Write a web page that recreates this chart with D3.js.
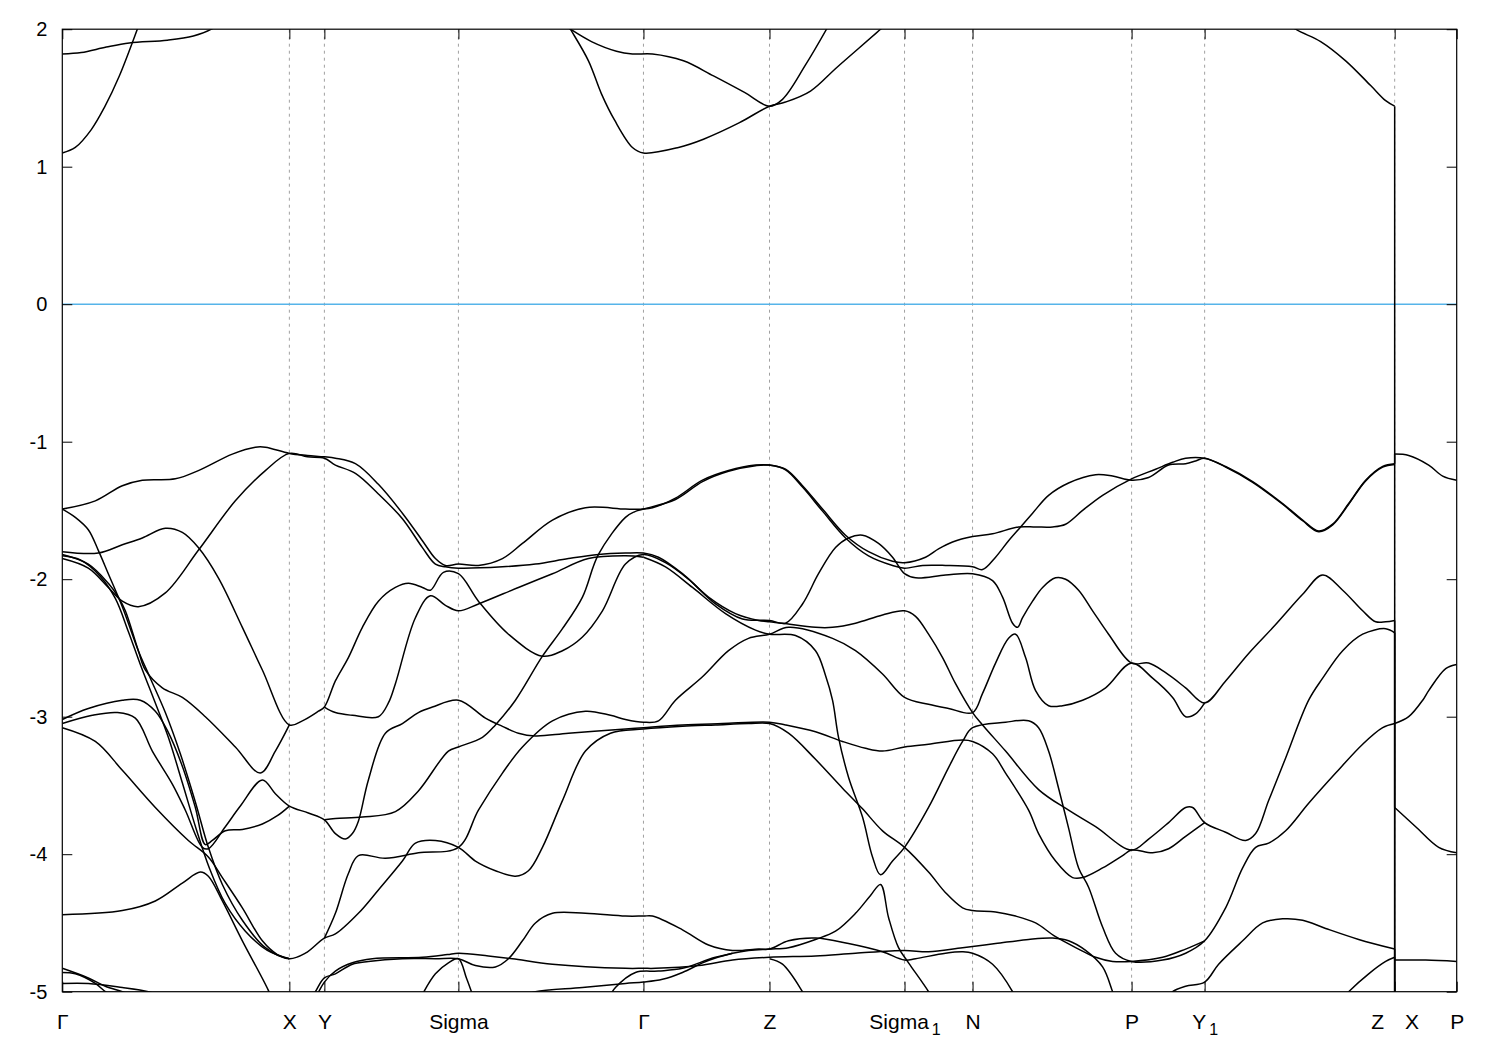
<!DOCTYPE html>
<html>
<head>
<meta charset="utf-8">
<script src="https://cdn.jsdelivr.net/npm/d3@7"></script>
<style>
  body { margin: 0; background: #fff; }
  svg text { font-family: "Liberation Sans", Arial, sans-serif; }
</style>
</head>
<body>
<svg id="chart" width="1500" height="1050"></svg>
<script>
// high-symmetry points along the k-path
const kTicks = [0, 2.27, 2.62, 3.96, 5.81, 7.07, 8.42, 9.10, 10.69, 11.42, 13.32, 13.94]
const kLabels = ["Γ", "X", "Y", "Sigma", "Γ", "Z", "Sigma_1", "N", "P", "Y_1", "Z X", "P"]
const eTicks = [2, 1, 0, -1, -2, -3, -4, -5]

// conduction bands (eV)
const cb1 = [[0,1.10],[0.13,1.14],[0.29,1.27],[0.42,1.43],[0.57,1.66],[0.75,2.0],[0.80,2.1]]
const cb2 = [[0,1.82],[0.19,1.83],[0.44,1.87],[0.67,1.90],[1.05,1.92],[1.31,1.95],[1.49,2.0],[1.60,2.06]]
const cb3 = [[4.98,2.12],[5.08,2.0],[5.26,1.77],[5.39,1.53],[5.52,1.34],[5.70,1.14],[5.81,1.10],[6.16,1.14],[6.41,1.20],[6.77,1.32],[7.07,1.44],[7.23,1.47],[7.48,1.55],[7.74,1.72],[8.18,2.0],[8.30,2.08]]
const cb4 = [[5.0,2.04],[5.08,2.0],[5.29,1.91],[5.54,1.84],[5.70,1.82],[5.90,1.82],[6.21,1.77],[6.51,1.66],[6.82,1.54],[7.07,1.44],[7.20,1.49],[7.43,1.74],[7.64,2.0],[7.70,2.08]]
const cb5 = [[12.10,2.12],[12.33,2.0],[12.58,1.91],[12.83,1.77],[13.08,1.59],[13.23,1.48],[13.32,1.44]]

// valence bands (eV)
const vA = [[0,-1.49],[0.33,-1.43],[0.60,-1.32],[0.80,-1.28],[1.13,-1.27],[1.36,-1.21],[1.70,-1.09],[1.93,-1.04],[2.03,-1.04],[2.27,-1.085],[2.45,-1.10],[2.62,-1.11],[2.73,-1.12],[2.93,-1.16],[3.16,-1.31],[3.40,-1.52],[3.60,-1.72],[3.73,-1.85],[3.83,-1.90],[3.96,-1.89],[4.16,-1.90],[4.40,-1.85],[4.60,-1.74],[4.90,-1.57],[5.23,-1.48],[5.63,-1.49],[5.81,-1.49],[5.90,-1.48],[6.13,-1.41],[6.40,-1.28],[6.66,-1.21],[6.93,-1.17],[7.07,-1.17],[7.23,-1.20],[7.40,-1.32],[7.60,-1.49],[7.83,-1.68],[8.06,-1.80],[8.30,-1.87],[8.42,-1.88],[8.63,-1.84],[8.76,-1.78],[8.90,-1.73],[9.10,-1.69],[9.30,-1.67],[9.56,-1.62],[9.73,-1.62],[9.90,-1.62],[10.03,-1.60],[10.20,-1.50],[10.40,-1.39],[10.69,-1.27],[10.93,-1.20],[11.10,-1.15],[11.23,-1.12],[11.42,-1.12],[11.63,-1.18],[11.90,-1.29],[12.20,-1.45],[12.40,-1.57],[12.56,-1.65],[12.70,-1.60],[12.86,-1.45],[13.03,-1.28],[13.20,-1.18],[13.32,-1.16]]
const vK = [[2.62,-3.75],[2.73,-3.74],[3.00,-3.73],[3.33,-3.69],[3.56,-3.54],[3.86,-3.25],[3.96,-3.22],[4.20,-3.15],[4.33,-3.06],[4.53,-2.88],[4.80,-2.56],[5.00,-2.36],[5.20,-2.13],[5.36,-1.82],[5.63,-1.55],[5.72,-1.51],[5.81,-1.49],[6.13,-1.42],[6.40,-1.29],[6.66,-1.215],[6.93,-1.175],[7.07,-1.17],[7.23,-1.205],[7.40,-1.33],[7.60,-1.505],[7.83,-1.70],[8.06,-1.83],[8.30,-1.90],[8.42,-1.92],[8.60,-1.90],[8.83,-1.90],[9.10,-1.91],[9.20,-1.93],[9.33,-1.84],[9.46,-1.72],[9.58,-1.62],[9.70,-1.52],[9.86,-1.39],[10.06,-1.30],[10.33,-1.24],[10.50,-1.25],[10.69,-1.28],[10.86,-1.26],[11.06,-1.17],[11.23,-1.16],[11.33,-1.14],[11.42,-1.12],[11.63,-1.185],[11.90,-1.295],[12.20,-1.455],[12.40,-1.575],[12.56,-1.655],[12.70,-1.605],[12.86,-1.455],[13.03,-1.285],[13.20,-1.185],[13.32,-1.165]]
const vC = [[0,-1.80],[0.36,-1.81],[0.60,-1.75],[0.80,-1.70],[1.03,-1.63],[1.20,-1.66],[1.36,-1.77],[1.56,-1.99],[1.80,-2.35],[2.00,-2.66],[2.27,-3.06],[2.40,-3.03],[2.56,-2.96],[2.62,-2.93],[2.73,-2.74],[2.86,-2.57],[3.00,-2.35],[3.16,-2.16],[3.33,-2.06],[3.46,-2.03],[3.60,-2.06],[3.68,-2.08],[3.81,-1.95],[3.96,-1.96],[4.16,-2.16],[4.46,-2.40],[4.80,-2.56],[5.00,-2.52],[5.20,-2.42],[5.40,-2.23],[5.63,-1.89],[5.81,-1.82],[6.03,-1.88],[6.26,-2.00],[6.53,-2.18],[6.80,-2.29],[7.07,-2.30],[7.23,-2.32],[7.40,-2.18],[7.56,-1.96],[7.73,-1.77],[7.86,-1.70],[8.00,-1.68],[8.16,-1.74],[8.30,-1.84],[8.42,-1.96],[8.53,-1.99],[8.83,-1.97],[9.10,-1.96],[9.30,-2.01],[9.40,-2.13],[9.50,-2.32],[9.55,-2.35],[9.60,-2.28],[9.70,-2.16],[9.80,-2.06],[9.93,-1.99],[10.03,-2.00],[10.16,-2.08],[10.30,-2.23],[10.46,-2.40],[10.69,-2.61],[10.86,-2.61],[11.03,-2.68],[11.23,-2.79],[11.42,-2.90],[11.63,-2.74],[11.86,-2.54],[12.13,-2.33],[12.40,-2.11],[12.60,-1.97],[12.80,-2.08],[13.00,-2.23],[13.13,-2.31],[13.23,-2.31],[13.32,-2.30]]
const vD = [[0,-1.85],[0.26,-1.92],[0.46,-2.06],[0.60,-2.16],[0.76,-2.20],[1.03,-2.10],[1.36,-1.79],[1.73,-1.43],[2.03,-1.21],[2.27,-1.085],[2.45,-1.11],[2.62,-1.12],[2.73,-1.17],[2.93,-1.23],[3.16,-1.38],[3.40,-1.56],[3.60,-1.77],[3.73,-1.89],[3.83,-1.91],[3.96,-1.92],[4.40,-1.91],[4.73,-1.89],[5.06,-1.85],[5.36,-1.82],[5.63,-1.81],[5.81,-1.81],[5.96,-1.84],[6.20,-1.96],[6.46,-2.13],[6.73,-2.25],[6.96,-2.30],[7.07,-2.31],[7.20,-2.32],[7.53,-2.35],[7.70,-2.35],[7.93,-2.32],[8.20,-2.26],[8.42,-2.23],[8.53,-2.27],[8.66,-2.40],[8.80,-2.57],[8.93,-2.76],[9.10,-2.97],[9.20,-3.06],[9.43,-3.25],[9.76,-3.53],[10.06,-3.68],[10.33,-3.80],[10.69,-3.97],[10.86,-3.89],[11.06,-3.77],[11.23,-3.66],[11.30,-3.66],[11.42,-3.77],[11.63,-3.84],[11.83,-3.90],[11.93,-3.85],[12.06,-3.61],[12.23,-3.30],[12.46,-2.88],[12.60,-2.72],[12.80,-2.52],[13.00,-2.40],[13.23,-2.36],[13.32,-2.39]]
const vS = [[0,-1.82],[0.26,-1.89],[0.46,-2.03],[0.56,-2.13],[0.63,-2.23],[0.76,-2.52],[0.83,-2.66],[1.00,-2.79],[1.20,-2.86],[1.43,-3.00],[1.73,-3.22],[1.98,-3.41],[2.13,-3.25],[2.27,-3.06]]
const vE = [[0,-1.83],[0.18,-1.86],[0.38,-1.98],[0.53,-2.14],[0.66,-2.38],[0.78,-2.62],[0.93,-2.90],[1.06,-3.15],[1.20,-3.48],[1.34,-3.82],[1.47,-4.10],[1.63,-4.36],[1.83,-4.56],[2.05,-4.70],[2.27,-4.76]]
const vB = [[0,-1.49],[0.13,-1.55],[0.26,-1.64],[0.36,-1.79],[0.46,-1.96],[0.60,-2.20],[0.76,-2.52],[0.88,-2.72],[1.03,-2.97],[1.18,-3.27],[1.33,-3.62],[1.46,-3.95],[1.60,-4.22],[1.80,-4.48],[2.03,-4.68],[2.27,-4.76],[2.43,-4.72],[2.62,-4.61],[2.73,-4.58],[2.96,-4.43],[3.16,-4.26],[3.40,-4.05],[3.53,-3.92],[3.73,-3.90],[3.96,-3.95],[4.13,-4.05],[4.33,-4.12],[4.53,-4.16],[4.66,-4.12],[4.80,-3.95],[5.00,-3.61],[5.23,-3.25],[5.48,-3.12],[5.81,-3.09],[6.20,-3.07],[6.53,-3.06],[6.86,-3.05],[7.07,-3.05],[7.26,-3.12],[7.53,-3.31],[7.80,-3.52],[8.00,-3.67],[8.20,-3.83],[8.42,-3.95],[8.66,-4.13],[8.83,-4.28],[9.00,-4.39],[9.10,-4.41],[9.33,-4.42],[9.53,-4.45],[9.73,-4.50],[9.93,-4.60],[10.16,-4.69],[10.33,-4.75],[10.50,-4.78],[10.69,-4.78],[11.00,-4.75],[11.23,-4.69],[11.42,-4.63]]
const vH = [[0,-3.02],[0.26,-2.94],[0.60,-2.88],[0.78,-2.88],[0.93,-2.96],[1.05,-3.10],[1.20,-3.36],[1.33,-3.66],[1.43,-3.93],[1.50,-3.90],[1.63,-3.83],[1.80,-3.82],[2.00,-3.78],[2.15,-3.72],[2.27,-3.65]]
const vG = [[0,-3.05],[0.30,-2.99],[0.55,-2.97],[0.73,-3.01],[0.90,-3.25],[1.10,-3.49],[1.23,-3.68],[1.40,-3.95],[1.46,-3.96],[1.63,-3.80],[1.78,-3.65],[2.00,-3.46],[2.13,-3.56],[2.27,-3.65],[2.46,-3.70],[2.62,-3.75],[2.73,-3.85],[2.83,-3.89],[2.90,-3.85],[2.96,-3.76],[3.06,-3.46],[3.23,-3.12],[3.40,-3.05],[3.56,-2.97],[3.70,-2.93],[3.96,-2.88],[4.23,-3.01],[4.40,-3.07],[4.56,-3.12],[4.73,-3.14],[5.06,-3.12],[5.63,-3.09],[5.81,-3.08],[6.20,-3.06],[6.60,-3.05],[7.07,-3.04],[7.23,-3.06],[7.53,-3.11],[7.80,-3.18],[8.03,-3.23],[8.20,-3.25],[8.42,-3.22],[8.66,-3.20],[9.00,-3.17],[9.10,-3.18],[9.30,-3.27],[9.43,-3.41],[9.66,-3.68],[9.76,-3.85],[9.93,-4.05],[10.10,-4.17],[10.20,-4.17],[10.40,-4.10],[10.60,-4.01],[10.69,-3.97],[10.90,-3.99],[11.06,-3.96],[11.23,-3.87],[11.42,-3.77]]
const vL = [[0,-3.08],[0.33,-3.18],[0.60,-3.39],[0.93,-3.66],[1.26,-3.90],[1.46,-4.02],[1.60,-4.17],[1.80,-4.39],[2.00,-4.63],[2.15,-4.73],[2.27,-4.76]]
const vF = [[2.62,-4.61],[2.73,-4.43],[2.86,-4.14],[2.96,-4.01],[3.23,-4.03],[3.56,-3.99],[3.96,-3.95],[4.16,-3.68],[4.40,-3.41],[4.60,-3.22],[4.90,-3.03],[5.23,-2.96],[5.48,-2.99],[5.63,-3.02],[5.81,-3.04],[5.96,-3.03],[6.13,-2.88],[6.40,-2.71],[6.66,-2.52],[6.86,-2.43],[7.07,-2.40],[7.26,-2.35],[7.70,-2.43],[7.93,-2.52],[8.20,-2.69],[8.42,-2.86],[8.66,-2.91],[8.86,-2.94],[9.10,-2.97],[9.20,-2.83],[9.33,-2.61],[9.46,-2.43],[9.53,-2.40],[9.63,-2.57],[9.73,-2.81],[9.86,-2.92],[10.00,-2.92],[10.20,-2.88],[10.43,-2.79],[10.69,-2.61],[10.90,-2.72],[11.10,-2.86],[11.23,-3.00],[11.33,-2.98],[11.42,-2.90]]
const vb = [[2.62,-2.93],[2.73,-2.97],[2.90,-2.99],[3.16,-3.00],[3.26,-2.90],[3.33,-2.76],[3.53,-2.28],[3.68,-2.12],[3.83,-2.19],[3.96,-2.23],[4.16,-2.18],[4.56,-2.06],[4.90,-1.96],[5.26,-1.85],[5.63,-1.83],[5.81,-1.84]]
const vI = [[5.81,-1.84],[6.03,-1.91],[6.30,-2.06],[6.63,-2.25],[6.93,-2.37],[7.07,-2.40],[7.33,-2.41],[7.53,-2.52],[7.63,-2.70],[7.70,-2.88],[7.76,-3.15],[7.86,-3.44],[8.00,-3.73],[8.10,-4.02],[8.18,-4.15],[8.30,-4.05],[8.42,-3.95],[8.66,-3.66],[8.86,-3.37],[9.00,-3.18],[9.10,-3.08],[9.43,-3.04],[9.66,-3.03],[9.76,-3.08],[9.86,-3.25],[9.96,-3.52],[10.06,-3.81],[10.16,-4.10],[10.26,-4.24],[10.40,-4.53],[10.53,-4.72],[10.69,-4.78],[11.00,-4.77],[11.23,-4.72],[11.42,-4.63],[11.63,-4.39],[11.80,-4.10],[11.93,-3.95],[12.06,-3.92],[12.23,-3.83],[12.46,-3.63],[12.73,-3.41],[13.00,-3.20],[13.20,-3.08],[13.32,-3.05]]
const vJ = [[0,-4.44],[0.60,-4.41],[0.93,-4.34],[1.20,-4.21],[1.38,-4.13],[1.46,-4.16],[1.60,-4.34],[1.80,-4.63],[2.06,-4.99],[2.12,-5.1]]

// lowest bands, mostly near the bottom edge
const b1 = [[0,-4.83],[0.26,-4.90],[0.43,-4.96],[0.60,-5.0],[0.70,-5.03]]
const b2 = [[0,-4.86],[0.13,-4.87],[0.33,-4.94],[0.43,-5.0],[0.50,-5.03]]
const b3 = [[0,-4.94],[0.26,-4.94],[0.60,-4.97],[0.86,-5.0],[0.95,-5.02]]
const w1 = [[2.45,-5.1],[2.53,-5.0],[2.62,-4.90],[2.73,-4.87],[2.90,-4.80],[3.06,-4.78],[3.40,-4.76],[3.73,-4.76],[3.96,-4.76],[4.13,-4.81],[4.33,-4.82],[4.46,-4.76],[4.60,-4.63],[4.73,-4.50],[4.90,-4.43],[5.23,-4.43],[5.63,-4.45],[5.81,-4.45],[5.90,-4.45],[6.20,-4.55],[6.46,-4.66],[6.70,-4.70],[6.96,-4.69],[7.07,-4.69],[7.26,-4.63],[7.53,-4.61],[7.86,-4.65],[8.20,-4.71],[8.42,-4.77],[8.53,-4.76],[8.83,-4.72],[9.00,-4.71],[9.10,-4.72],[9.30,-4.80],[9.50,-5.0],[9.56,-5.1]]
const w2 = [[2.53,-5.05],[2.62,-4.93],[2.73,-4.85],[2.90,-4.79],[3.10,-4.76],[3.60,-4.75],[3.85,-4.73],[3.96,-4.72],[4.26,-4.74],[4.50,-4.76],[4.90,-4.80],[5.63,-4.83],[5.81,-4.83],[5.93,-4.83],[6.36,-4.81],[6.70,-4.77],[7.07,-4.75],[7.53,-4.74],[7.93,-4.72],[8.42,-4.70],[8.66,-4.71],[9.00,-4.68],[9.33,-4.65],[9.66,-4.62],[9.90,-4.61],[10.06,-4.63],[10.23,-4.70],[10.40,-4.82],[10.50,-5.0],[10.55,-5.1]]
const w3 = [[5.46,-5.05],[5.53,-4.97],[5.73,-4.86],[5.96,-4.85],[6.20,-4.83],[6.53,-4.75],[6.86,-4.70],[7.07,-4.69],[7.26,-4.68],[7.53,-4.62],[7.73,-4.56],[7.93,-4.43],[8.08,-4.30],[8.18,-4.22],[8.26,-4.46],[8.36,-4.68],[8.46,-4.79],[8.66,-5.0],[8.72,-5.08]]
const w4 = [[4.60,-5.03],[4.73,-5.0],[5.20,-4.97],[5.63,-4.94],[5.81,-4.93],[6.00,-4.91],[6.20,-4.86],[6.40,-4.79],[6.53,-4.755],[6.70,-4.72]]
const w5 = [[7.07,-4.76],[7.20,-4.80],[7.40,-5.0],[7.46,-5.08]]
const w6 = [[11.05,-5.05],[11.10,-5.0],[11.23,-4.96],[11.42,-4.93],[11.56,-4.80],[11.80,-4.63],[12.00,-4.50],[12.20,-4.47],[12.40,-4.48],[12.63,-4.54],[12.96,-4.62],[13.32,-4.69]]
const w7 = [[12.80,-5.05],[12.86,-5.0],[13.06,-4.87],[13.23,-4.78],[13.32,-4.75]]
const sigL = [[3.60,-5.02],[3.73,-4.87],[3.86,-4.79],[3.96,-4.76],[4.04,-4.90],[4.10,-5.02]]

// last segment X-P
const r1 = [[13.32,-1.09],[13.46,-1.10],[13.66,-1.17],[13.80,-1.25],[13.94,-1.28]]
const r2 = [[13.32,-3.05],[13.46,-3.00],[13.60,-2.88],[13.66,-2.81],[13.83,-2.65],[13.94,-2.62]]
const r3 = [[13.32,-3.66],[13.53,-3.80],[13.76,-3.95],[13.94,-3.99]]
const r4 = [[13.32,-4.77],[13.63,-4.77],[13.94,-4.78]]

// vertical jumps at the Z|X break
const jumpFrom = [1.44, -1.16, -2.30, -2.39, -3.05, -4.69, -4.75]
const jumpTo = [-3.05, -1.09, -3.66, -4.77, -5.1, -5.1, -5.1]

const bands = [cb1, cb2, cb3, cb4, cb5, vA, vK, vC, vD, vS, vE, vB, vH, vG, vL, vF, vb, vI, vJ,
  b1, b2, b3, w1, w2, w3, w4, w5, w6, w7, sigL, r1, r2, r3, r4]

const width = 1500
const height = 1050
const margin = { top: 29.2, right: 43.3, bottom: 58.3, left: 62.3 }

const svg = d3.select("#chart")

const x = d3.scaleLinear()
  .domain([0, kTicks[kTicks.length - 1]])
  .range([margin.left, width - margin.right])
const y = d3.scaleLinear()
  .domain([-5, 2])
  .range([height - margin.bottom, margin.top])

svg.append("defs").append("clipPath").attr("id", "plot")
  .append("rect")
  .attr("x", margin.left).attr("y", margin.top)
  .attr("width", x.range()[1] - x.range()[0])
  .attr("height", y.range()[0] - y.range()[1])

// dashed grid at the inner high-symmetry points
svg.append("g")
  .selectAll("line")
  .data(kTicks.slice(1, -1))
  .join("line")
  .attr("x1", d => x(d)).attr("x2", d => x(d))
  .attr("y1", y(-5)).attr("y2", y(2))
  .attr("stroke", "#a0a0a0")
  .attr("stroke-width", 1)
  .attr("stroke-dasharray", "3,4")

// Fermi level
svg.append("line")
  .attr("x1", x(0)).attr("x2", x(kTicks[kTicks.length - 1]))
  .attr("y1", y(0)).attr("y2", y(0))
  .attr("stroke", "#56b4e9")
  .attr("stroke-width", 1.5)

const plot = svg.append("g").attr("clip-path", "url(#plot)")

const line = d3.line()
  .x(d => x(d[0]))
  .y(d => y(d[1]))
  .curve(d3.curveCatmullRom.alpha(0.5))

plot.selectAll(".band")
  .data(bands)
  .join("path")
  .attr("class", "band")
  .attr("fill", "none")
  .attr("stroke", "#000")
  .attr("stroke-width", 1.5)
  .attr("stroke-linejoin", "round")
  .attr("d", line)

const kBreak = kTicks[10]
plot.selectAll(".jump")
  .data(jumpFrom)
  .join("line")
  .attr("class", "jump")
  .attr("x1", x(kBreak)).attr("x2", x(kBreak))
  .attr("y1", d => y(d))
  .attr("y2", (d, i) => y(jumpTo[i]))
  .attr("stroke", "#000")
  .attr("stroke-width", 1.5)

// axes: ticks point inward
const fontSize = 20
const styleAxis = g => {
  g.select(".domain").remove()
  g.selectAll(".tick line").attr("stroke", "#000")
  g.selectAll("text").attr("fill", "#000").attr("font-size", fontSize)
    .attr("font-family", "Liberation Sans, Arial, sans-serif")
}

svg.append("g")
  .attr("transform", `translate(${margin.left},0)`)
  .call(d3.axisLeft(y).tickValues(eTicks).tickSize(-10).tickPadding(15).tickFormat(d => String(d)))
  .call(styleAxis)

svg.append("g")
  .attr("transform", `translate(${width - margin.right},0)`)
  .call(d3.axisRight(y).tickValues(eTicks).tickSize(-10).tickFormat(""))
  .call(styleAxis)

svg.append("g")
  .attr("transform", `translate(0,${margin.top})`)
  .call(d3.axisTop(x).tickValues(kTicks).tickSize(-10).tickFormat(""))
  .call(styleAxis)

const bottom = svg.append("g")
  .attr("transform", `translate(0,${height - margin.bottom})`)
  .call(d3.axisBottom(x).tickValues(kTicks).tickSize(-10).tickPadding(22).tickFormat(""))
  .call(styleAxis)

// labels with gnuplot-style subscripts
bottom.selectAll(".tick text")
  .each(function (d, i) {
    const t = d3.select(this)
      .attr("font-size", 21)
      .attr("style", "white-space: pre")
    const parts = kLabels[i].split("_")
    t.text(null)
    t.append("tspan").text(parts[0].replace(" ", "\u2003"))
    if (parts[1]) {
      t.append("tspan").attr("font-size", 16).attr("dx", 3).attr("dy", 6).text(parts[1])
    }
  })

// frame
svg.append("rect")
  .attr("x", margin.left).attr("y", margin.top)
  .attr("width", x.range()[1] - x.range()[0])
  .attr("height", y.range()[0] - y.range()[1])
  .attr("fill", "none")
  .attr("stroke", "#000")
  .attr("stroke-width", 1.2)
</script>
</body>
</html>
